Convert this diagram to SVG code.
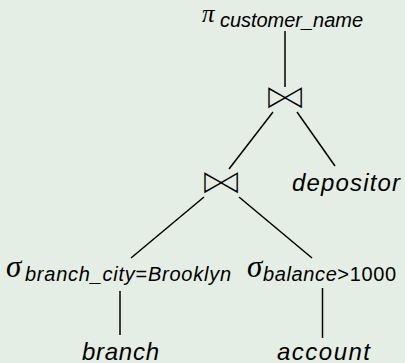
<svg xmlns="http://www.w3.org/2000/svg" width="405" height="363" viewBox="0 0 405 363">
  <style>
    .rel { font-family: "Liberation Sans", Arial, sans-serif; font-style: italic; font-size: 24px; fill: #000; }
    .sub { font-family: "Liberation Sans", Arial, sans-serif; font-style: italic; font-size: 20px; fill: #000; }
    .up { font-style: normal; }
    .greek { font-family: "Liberation Serif", "DejaVu Serif", serif; font-style: italic; font-size: 31px; fill: #000; }
    /* join symbol: heavy glyph thinned by an over-painted background stroke */
    .join { font-family: "DejaVu Sans", sans-serif; font-size: 46px; fill: #000; stroke: #e4eee4; stroke-width: 2.2; paint-order: fill stroke; text-anchor: middle; }
    .edge { stroke: #000; stroke-width: 1.5; fill: none; }
  </style>
  <rect width="405" height="363" fill="#e4eee4"/>

  <!-- tree edges -->
  <g id="connectors">
    <line class="edge" x1="285" y1="31" x2="285" y2="87"/>
    <line class="edge" x1="273" y1="112" x2="229" y2="169"/>
    <line class="edge" x1="297" y1="112" x2="335" y2="166"/>
    <line class="edge" x1="204" y1="197" x2="131" y2="258"/>
    <line class="edge" x1="239" y1="197" x2="312" y2="258"/>
    <line class="edge" x1="120" y1="291" x2="120" y2="335"/>
    <line class="edge" x1="322.5" y1="288" x2="322.5" y2="338"/>
  </g>

  <!-- projection -->
  <g id="projection">
    <text class="greek" x="202" y="22" style="font-size:25px">π</text>
    <text class="sub" x="220" y="26.5" textLength="143" lengthAdjust="spacing">customer_name</text>
  </g>

  <!-- joins -->
  <g id="join-top" transform="translate(285,98) scale(1,0.78)">
    <text class="join" x="0" y="14">⋈</text>
  </g>
  <g id="join-low" transform="translate(221,183) scale(1,0.78)">
    <text class="join" x="0" y="14">⋈</text>
  </g>

  <!-- base relations and selections -->
  <g id="depositor">
    <text class="rel" x="292" y="190.5" textLength="108" lengthAdjust="spacing">depositor</text>
  </g>
  <g id="select-branch">
    <text class="greek" x="6" y="276.5">σ</text>
    <text class="sub" x="25" y="281" textLength="206" lengthAdjust="spacing">branch_city<tspan class="up">=</tspan>Brooklyn</text>
  </g>
  <g id="select-balance">
    <text class="greek" x="247" y="276.5">σ</text>
    <text class="sub" x="263" y="280.5" textLength="133" lengthAdjust="spacing">balance<tspan class="up">&gt;1000</tspan></text>
  </g>
  <g id="branch">
    <text class="rel" x="82" y="359.5" textLength="77" lengthAdjust="spacing">branch</text>
  </g>
  <g id="account">
    <text class="rel" x="277" y="359.5" textLength="93" lengthAdjust="spacing">account</text>
  </g>
</svg>
